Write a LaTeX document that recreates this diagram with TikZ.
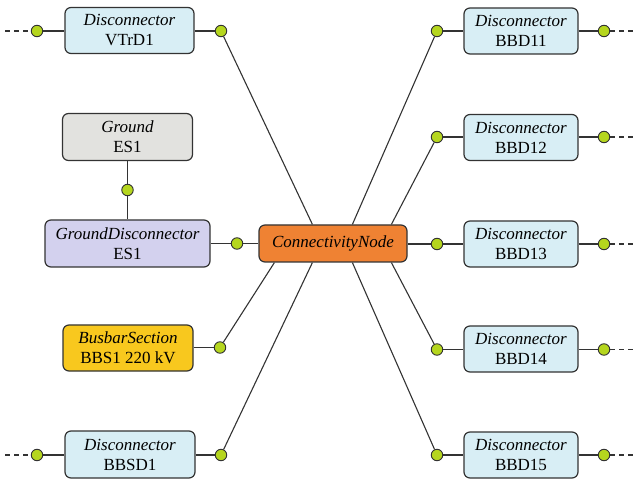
\documentclass[tikz,border=0pt]{standalone}
\usepackage{fontspec}
\setmainfont{Liberation Serif}
\definecolor{bluebox}{HTML}{D8EEF5}
\definecolor{graybox}{HTML}{E2E2DF}
\definecolor{lavbox}{HTML}{D3D1EE}
\definecolor{yelbox}{HTML}{F8C81E}
\definecolor{orabox}{HTML}{EF8233}
\definecolor{dotfill}{HTML}{B5D61E}
\definecolor{edge}{HTML}{333333}
\begin{document}
\begin{tikzpicture}[x=1pt,y=-1pt,
  box/.style={draw=edge,line width=1.2pt,rounded corners=6pt,inner sep=0pt,
    align=center,font=\fontsize{17}{20}\selectfont,text=black},
  dbox/.style={box,fill=bluebox,minimum width=114pt,minimum height=46pt},
  term/.style={circle,draw=edge,line width=0.9pt,fill=dotfill,minimum size=11.5pt,inner sep=0pt},
  wire/.style={draw=edge,line width=1.1pt},
  dwire/.style={wire,dashed,dash pattern=on 5pt off 4pt}]
\useasboundingbox (0,0) rectangle (635,481);
% boxes
\node[dbox,minimum width=129pt,minimum height=46pt] (vtrd1) at (129.5,30.5) {\textit{Disconnector}\\VTrD1};
\node[dbox,minimum width=130pt,minimum height=47pt] (bbsd1) at (130,454.5) {\textit{Disconnector}\\BBSD1};
\node[box,fill=graybox,minimum width=130pt,minimum height=47pt] (gnd) at (127.5,137) {\textit{Ground}\\ES1};
\node[box,fill=lavbox,minimum width=165pt,minimum height=47pt] (gds) at (127.5,243.5) {\textit{GroundDisconnector}\\ES1};
\node[box,fill=yelbox,minimum width=130pt,minimum height=46pt] (bbs) at (128,348) {\textit{BusbarSection}\\BBS1 220 kV};
\node[box,fill=orabox,minimum width=148pt,minimum height=37pt] (cn) at (333,243.5) {\textit{ConnectivityNode}};
\node[dbox] (bbd11) at (521,31) {\textit{Disconnector}\\BBD11};
\node[dbox] (bbd12) at (521,137.5) {\textit{Disconnector}\\BBD12};
\node[dbox] (bbd13) at (521,244) {\textit{Disconnector}\\BBD13};
\node[dbox] (bbd14) at (521,349) {\textit{Disconnector}\\BBD14};
\node[dbox] (bbd15) at (521,455) {\textit{Disconnector}\\BBD15};
% terminals
\node[term] (tv1) at (37,31) {};
\node[term] (tv2) at (221,31) {};
\node[term] (ts1) at (37,455) {};
\node[term] (ts2) at (221,455) {};
\node[term] (tg) at (127.5,190) {};
\node[term] (tgd) at (237,243.5) {};
\node[term] (tb) at (220,347.5) {};
\node[term] (t11a) at (437,31) {};
\node[term] (t11b) at (604,31) {};
\node[term] (t12a) at (437,137) {};
\node[term] (t12b) at (604,137) {};
\node[term] (t13a) at (437,244) {};
\node[term] (t13b) at (604,244) {};
\node[term] (t14a) at (437,349.5) {};
\node[term] (t14b) at (604,349.5) {};
\node[term] (t15a) at (437,455) {};
\node[term] (t15b) at (604,455) {};
% free ends
\coordinate (e1) at (5,31);
\coordinate (e2) at (5,455);
\coordinate (e3) at (635,31);
\coordinate (e4) at (635,137);
\coordinate (e5) at (635,244);
\coordinate (e6) at (635,349.5);
\coordinate (e7) at (635,455);
% dashed stubs
\draw[dwire] (e1) -- (tv1);
\draw[dwire] (e2) -- (ts1);
\draw[dwire] (t11b) -- (e3);
\draw[dwire] (t12b) -- (e4);
\draw[dwire] (t13b) -- (e5);
\draw[dwire] (t14b) -- (e6);
\draw[dwire] (t15b) -- (e7);
% solid short wires
\draw[wire] (tv1) -- (vtrd1.west|-tv1);
\draw[wire] (vtrd1.east|-tv2) -- (tv2);
\draw[wire] (ts1) -- (bbsd1.west|-ts1);
\draw[wire] (bbsd1.east|-ts2) -- (ts2);
\draw[wire] (gnd) -- (tg) -- (gds);
\draw[wire] (gds.east|-tgd) -- (tgd) -- (cn.west|-tgd);
\draw[wire] (bbs.east|-tb) -- (tb);
\draw[wire] (t11a) -- (bbd11.west|-t11a);
\draw[wire] (bbd11.east|-t11b) -- (t11b);
\draw[wire] (t12a) -- (bbd12.west|-t12a);
\draw[wire] (bbd12.east|-t12b) -- (t12b);
\draw[wire] (cn.east|-t13a) -- (t13a) -- (bbd13.west|-t13a);
\draw[wire] (bbd13.east|-t13b) -- (t13b);
\draw[wire] (t14a) -- (bbd14.west|-t14a);
\draw[wire] (bbd14.east|-t14b) -- (t14b);
\draw[wire] (t15a) -- (bbd15.west|-t15a);
\draw[wire] (bbd15.east|-t15b) -- (t15b);
% wires from connectivity node
\draw[wire] ([xshift=54pt]cn.north west) -- (tv2);
\draw[wire] ([xshift=94pt]cn.north west) -- (t11a);
\draw[wire] ([xshift=133pt]cn.north west) -- (t12a);
\draw[wire] ([xshift=16pt]cn.south west) -- (tb);
\draw[wire] ([xshift=54pt]cn.south west) -- (ts2);
\draw[wire] ([xshift=94pt]cn.south west) -- (t15a);
\draw[wire] ([xshift=133pt]cn.south west) -- (t14a);
\end{tikzpicture}
\end{document}
